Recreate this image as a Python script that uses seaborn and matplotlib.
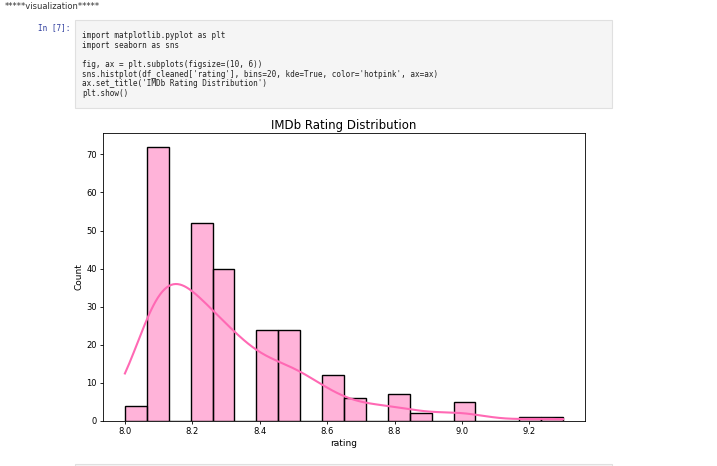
import seaborn as sns
import matplotlib.pyplot as plt
import matplotlib.patches as mpatches
import pandas as pd

# rating values and how many films have each
rating_values = [8.0, 8.1, 8.2, 8.3, 8.4, 8.5, 8.6, 8.7, 8.8, 8.9, 9.0, 9.2, 9.3]
rating_counts = [4, 72, 52, 40, 24, 24, 12, 6, 7, 2, 5, 1, 1]

code_lines = [
    "import matplotlib.pyplot as plt",
    "import seaborn as sns",
    "",
    "fig, ax = plt.subplots(figsize=(10, 6))",
    "sns.histplot(df_cleaned['rating'], bins=20, kde=True, color='hotpink', ax=ax)",
    "ax.set_title('IMDb Rating Distribution')",
    "plt.show()",
]

ratings = []
for v, c in zip(rating_values, rating_counts):
    ratings += [v] * c
df_cleaned = pd.DataFrame({'rating': ratings})

fig = plt.figure(figsize=(7.17, 4.66), dpi=100)

# notebook cell around the plot
fig.text(0.007, 0.995, "*****visualization*****", fontsize=6, va='top', color='#333333')
fig.patches.append(mpatches.Rectangle((75 / 717, 1 - 108 / 466), 537 / 717, 88 / 466,
                                      transform=fig.transFigure, facecolor='#f5f5f5',
                                      edgecolor='#e0e0e0', linewidth=0.8))
fig.text(38 / 717, 1 - 28 / 466, "In [7]:", fontsize=5.5, color='#303f9f', va='center',
         family='DejaVu Sans Mono')
for i, line in enumerate(code_lines):
    fig.text(82 / 717, 1 - (36 + i * 9.6) / 466, line, fontsize=5.5, va='center',
             family='DejaVu Sans Mono', color='#222222')
fig.patches.append(mpatches.Rectangle((75 / 717, 0), 537 / 717, 2 / 466,
                                      transform=fig.transFigure, facecolor='#f5f5f5',
                                      edgecolor='#e0e0e0', linewidth=0.8))

ax = fig.add_axes([103 / 717, 45 / 466, 482 / 717, 288 / 466])
sns.histplot(df_cleaned['rating'], bins=20, kde=True, color='hotpink', ax=ax)
ax.set_title('IMDb Rating Distribution', fontsize=8.5, pad=3)
ax.set_xlabel('rating', fontsize=6.5, labelpad=2)
ax.set_ylabel('Count', fontsize=6.5, labelpad=2)
ax.tick_params(labelsize=6, length=2.5, width=0.6, pad=2)
for s in ax.spines.values():
    s.set_linewidth(0.6)

fig.savefig('out.png', dpi=100)
